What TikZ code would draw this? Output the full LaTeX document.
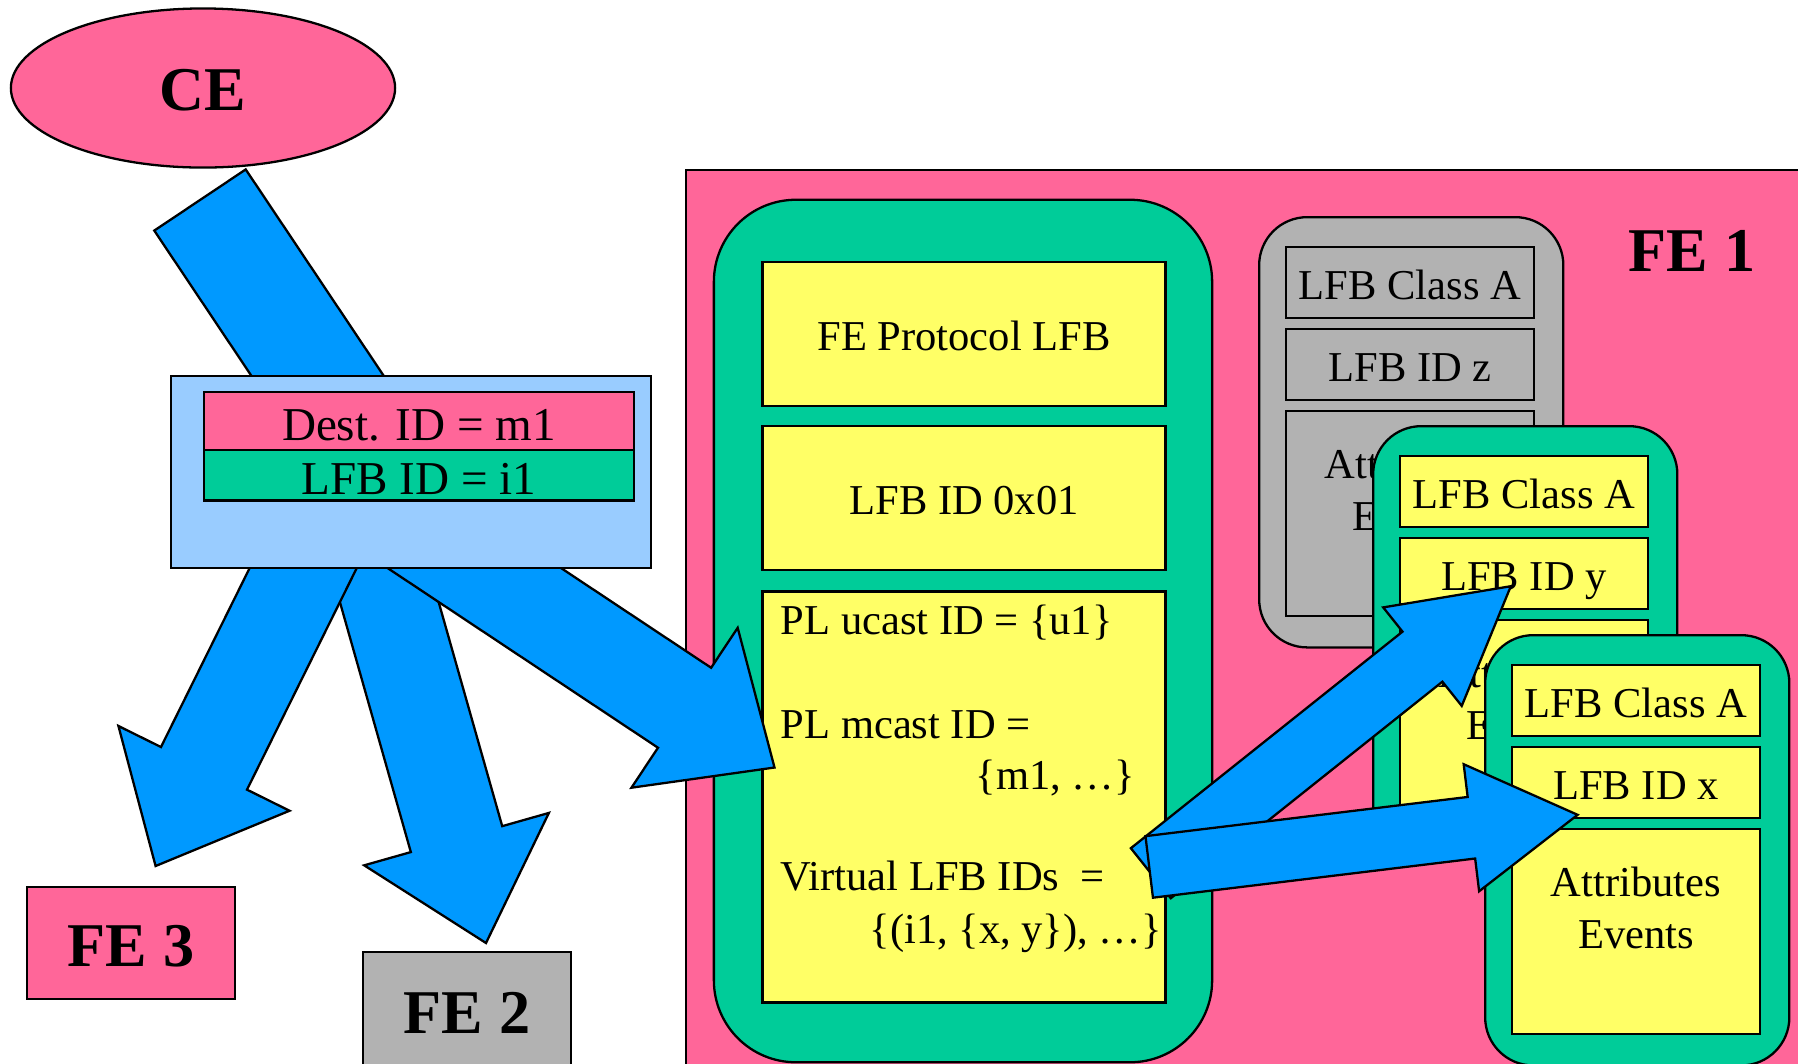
\documentclass[tikz,border=0pt]{standalone}
\usepackage{fontspec}
\setmainfont{Liberation Serif}
\usetikzlibrary{calc, shapes.geometric}

\definecolor{fepink}{RGB}{255,102,153}
\definecolor{lfbgreen}{RGB}{0,204,153}
\definecolor{lfbyellow}{RGB}{255,255,102}
\definecolor{lfbgray}{RGB}{178,178,178}
\definecolor{arrowblue}{RGB}{0,153,255}
\definecolor{pktblue}{RGB}{153,204,255}

\newcommand{\lfbfont}{\fontsize{12.1}{14.5}\selectfont}
\newcommand{\hdrfont}{\fontsize{13.4}{16}\selectfont}
\newcommand{\bigfont}{\fontsize{17.7}{21}\selectfont\bfseries}

\tikzset{
  outline/.style={draw, line width=0.65pt},
  lfbbox/.style={outline, inner sep=0pt, minimum width=2.48cm, minimum height=0.71cm, text height=9.6pt, text depth=0pt, font=\lfbfont},
  hdrbox/.style={outline, inner sep=0pt, minimum width=4.3cm, text height=11.1pt, text depth=0pt, font=\hdrfont},
  febox/.style={outline, inner sep=0pt, minimum width=2.08cm, text height=13.4pt, text depth=0pt, font=\bigfont},
  lfbtext/.style={inner sep=0pt, font=\lfbfont},
  fatarrow/.style={outline, fill=arrowblue, line join=miter}
}

% block arrow: tail, tip, half shaft, half head, head length (in px)
\newcommand{\blockarrow}[5]{%
  \coordinate (hb) at ($(#2)!#5*0.01cm!(#1)$);
  \draw[fatarrow] ($(#1)!#3*0.01cm!90:(#2)$) -- ($(hb)!#3*0.01cm!-90:(#1)$)
    -- ($(hb)!#4*0.01cm!-90:(#1)$) -- (#2) -- ($(hb)!#4*0.01cm!90:(#1)$)
    -- ($(hb)!#3*0.01cm!90:(#1)$) -- ($(#1)!#3*0.01cm!-90:(#2)$) -- cycle;}

\begin{document}
\begin{tikzpicture}[x=0.01cm, y=-0.01cm]
  \useasboundingbox (0,0) rectangle (1798,1063);
  \clip (0,0) rectangle (1798,1063);

  % FE 1 area
  \node[outline, fill=fepink, minimum width=12cm, minimum height=10cm, inner sep=0pt, anchor=north west] (fe1) at (685,169) {};
  \node[font=\bigfont, inner sep=0pt] (fe1label) at (1692,251) {FE 1};

  % FE protocol LFB
  \node[outline, fill=lfbgreen, rounded corners=0.82cm, minimum width=4.98cm, minimum height=8.62cm, inner sep=0pt] (proto) at (963,631) {};
  \node[lfbbox, fill=lfbyellow, minimum width=4.03cm, minimum height=1.434cm] (protoname) at (964,334) {FE Protocol LFB};
  \node[lfbbox, fill=lfbyellow, minimum width=4.03cm, minimum height=1.434cm] (protoid) at (964,498) {LFB ID 0x01};
  \node[lfbbox, fill=lfbyellow, minimum width=4.03cm, minimum height=4.106cm] (protoattr) at (964,797) {};
  \node[lfbtext, anchor=base west] (ucast) at (780,634) {PL ucast ID = \{u1\}};
  \node[lfbtext, anchor=base west] (mcast) at (780,738) {PL mcast ID =};
  \node[lfbtext, anchor=base west] (mcastval) at (975,789) {\{m1, \ldots\}};
  \node[lfbtext, anchor=base west] (virt) at (780,890) {Virtual LFB IDs\ \ =};
  \node[lfbtext, anchor=base west] (virtval) at (869,943) {\{(i1, \{x, y\}), \ldots\}};

  % LFB class A instances z, y, x
  \foreach \n/\px/\py/\boxfill/\cellfill in {z/1258/216/lfbgray/lfbgray, y/1372/425/lfbgreen/lfbyellow, x/1484/634/lfbgreen/lfbyellow}{
    \node[outline, fill=\boxfill, rounded corners=0.48cm, minimum width=3.04cm, minimum height=4.3cm, inner sep=0pt, anchor=north west] (stack-\n) at (\px,\py) {};
    \node[lfbbox, fill=\cellfill] (class-\n) at (\px+152,\py+66.5) {LFB Class A};
    \node[lfbbox, fill=\cellfill] (id-\n) at (\px+152,\py+148.5) {LFB ID \n};
    \node[lfbbox, fill=\cellfill, minimum height=2.05cm] (attr-\n) at (\px+152,\py+297.5) {};
    \node[lfbtext, anchor=base] at (\px+152,\py+262) {Attributes};
    \node[lfbtext, anchor=base] at (\px+152,\py+314) {Events};
  }

  % virtual LFB ID resolves to y and x
  \coordinate (y-tail) at (1150.8,873.2);
  \coordinate (y-tip) at (1510.8,586.2);
  \coordinate (x-tail) at (1149.2,866.9);
  \coordinate (x-tip) at (1577.6,814.8);
  \blockarrow{y-tail}{y-tip}{32}{63}{113}
  \blockarrow{x-tail}{x-tip}{31}{64}{107}

  % CE sends the packet, copies go to FE 3, FE 2 and FE 1
  \coordinate (ce-tail) at (200,200);
  \coordinate (ce-tip) at (422,532);
  \coordinate (fe2-tail) at (366,520);
  \coordinate (fe2-tip) at (486,943);
  \coordinate (fe3-tail) at (327,520);
  \coordinate (fe3-tip) at (155.6,866);
  \coordinate (fe1-tail) at (402,520);
  \coordinate (fe1-tip) at (774.5,767.5);
  \blockarrow{ce-tail}{ce-tip}{55}{96}{108}
  \blockarrow{fe2-tail}{fe2-tip}{47.5}{96}{108}
  \blockarrow{fe3-tail}{fe3-tip}{48}{95.5}{109}
  \blockarrow{fe1-tail}{fe1-tip}{48}{96}{108}

  % packet
  \node[outline, fill=pktblue, minimum width=4.8cm, minimum height=1.92cm, inner sep=0pt] (packet) at (411,472) {};
  \node[hdrbox, fill=fepink, minimum height=0.58cm] (dest) at (419,421) {Dest. ID = m1};
  \node[hdrbox, fill=lfbgreen, minimum height=0.506cm] (lfbid) at (419,475.3) {LFB ID = i1};

  \node[outline, ellipse, fill=fepink, minimum width=3.84cm, minimum height=1.59cm, inner sep=0pt, text height=13pt, text depth=0pt, font=\bigfont] (ce) at (203,88) {CE};
  \node[febox, fill=fepink, minimum height=1.12cm] (fe3) at (131,943) {FE 3};
  \node[febox, fill=lfbgray, minimum height=1.15cm] (fe2) at (467,1009.5) {FE 2};
\end{tikzpicture}
\end{document}
